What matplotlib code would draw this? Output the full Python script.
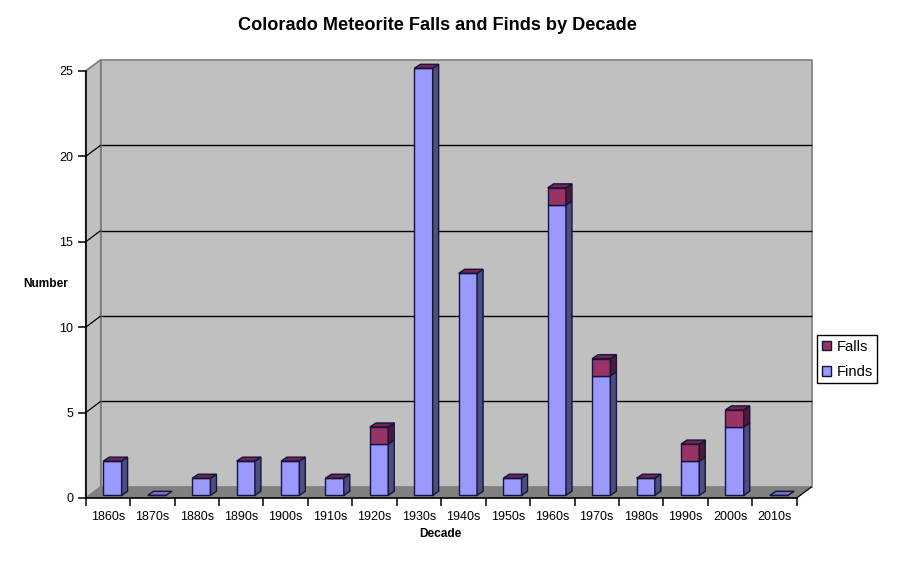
import numpy as np
import matplotlib
matplotlib.use('Agg')
import matplotlib.pyplot as plt
from matplotlib.patches import Polygon, Patch

plt.rcParams['font.family'] = ['Liberation Sans', 'DejaVu Sans']

decades = ['1860s', '1870s', '1880s', '1890s', '1900s', '1910s', '1920s', '1930s',
           '1940s', '1950s', '1960s', '1970s', '1980s', '1990s', '2000s', '2010s']
finds = [2, 0, 1, 2, 2, 1, 3, 25, 13, 1, 17, 7, 1, 2, 4, 0]
falls = [0, 0, 0, 0, 0, 0, 1, 0, 0, 0, 1, 1, 0, 1, 1, 0]

W, H = 899, 561
fig = plt.figure(figsize=(W / 100, H / 100), dpi=100)

# front plane of the fake 3d box, in pixels
left, right, top, bottom = 85.7, 796.7, 71.0, 498.0
ax = fig.add_axes([left / W, 1 - bottom / H, (right - left) / W, (bottom - top) / H])
ax.set_xlim(0, len(decades))
ax.set_ylim(0, 25)
ax.patch.set_visible(False)

# pixels to data units
ux = (right - left) / len(decades)
uy = (bottom - top) / 25
wall_dx, wall_dy = 15 / ux, 11.2 / uy
bar_dx, bar_dy = 6 / ux, 4 / uy
base_off = 2.7 / uy
bar_l, bar_w = 17.6 / ux, 18.3 / ux


def poly(xs, ys, fc, ec='none', lw=0.0, z=1):
    ax.add_patch(Polygon(np.column_stack([xs, ys]), closed=True, facecolor=fc,
                         edgecolor=ec, linewidth=lw, zorder=z, clip_on=False))


n = len(decades)
# back wall, side wall, floor
poly([wall_dx, n + wall_dx, n + wall_dx, wall_dx], [wall_dy, wall_dy, 25 + wall_dy, 25 + wall_dy], '#C0C0C0', '#808080', 1.2)
poly([0, wall_dx, wall_dx, 0], [0, wall_dy, 25 + wall_dy, 25], '#C0C0C0', '#808080', 1.2)
poly([0, n, n + wall_dx, wall_dx], [0, 0, wall_dy, wall_dy], '#808080')

# gridlines
for v in range(5, 26, 5):
    if v < 25:
        ax.plot([wall_dx, n + wall_dx], [v + wall_dy, v + wall_dy], color='black', lw=1.0, zorder=2,
                clip_on=False, solid_capstyle='butt')
    ax.plot([0, wall_dx], [v, v + wall_dy], color='black' if v < 25 else '#808080', lw=0.9, zorder=2,
            clip_on=False, solid_capstyle='butt')
ax.plot([n, n + wall_dx], [0, wall_dy], color='black', lw=0.9, zorder=2, clip_on=False, solid_capstyle='butt')

# bars sit a little behind the front plane
edge = '#14143C'
x = np.arange(n) + bar_l
finds = np.array(finds)
falls = np.array(falls)
ax.bar(x, finds, bar_w, bottom=base_off, align='edge', color='#9999FF',
       edgecolor=edge, linewidth=1.0, zorder=3, clip_on=False)
ax.bar(x, falls, bar_w, bottom=finds + base_off, align='edge', color='#993366',
       edgecolor=edge, linewidth=1.0, zorder=3, clip_on=False)

for xi, a, b in zip(x, finds, falls):
    t = a + b + base_off
    m = a + base_off
    xr = xi + bar_w
    if a > 0:
        poly([xr, xr + bar_dx, xr + bar_dx, xr], [base_off, base_off + bar_dy, m + bar_dy, m], '#4D4D80', edge, 1.0, 4)
    if b > 0:
        poly([xr, xr + bar_dx, xr + bar_dx, xr], [m, m + bar_dy, t + bar_dy, t], '#4D1A33', edge, 1.0, 4)
    top_c = '#73264D' if a + b > 0 else '#7373BF'
    poly([xi, xr, xr + bar_dx, xi + bar_dx], [t, t, t + bar_dy, t + bar_dy], top_c, edge, 1.0, 4)

# axes
for s in ['top', 'right']:
    ax.spines[s].set_visible(False)
for s in ['left', 'bottom']:
    ax.spines[s].set_linewidth(1.2)
    ax.spines[s].set_zorder(5)
ax.set_yticks(range(0, 26, 5))
ax.set_xticks(range(n + 1))
ax.set_xticklabels([])
ax.set_xticks(np.arange(n) + 0.5, decades, minor=True)
ax.tick_params(axis='both', which='major', length=6, width=1.1, labelsize=9, pad=3)
ax.tick_params(axis='x', which='minor', length=0, labelsize=9, pad=9)

fig.text(437.5 / W, 1 - 25 / H, 'Colorado Meteorite Falls and Finds by Decade', ha='center', va='center',
         fontsize=13.05, fontweight='bold')
fig.text(45.5 / W, 1 - 284 / H, 'Number', ha='center', va='center', fontsize=8.6, fontweight='bold')
fig.text(440 / W, 1 - 534 / H, 'Decade', ha='center', va='center', fontsize=8.6, fontweight='bold')

handles = [Patch(facecolor='#993366', edgecolor=edge, label='Falls'),
           Patch(facecolor='#9999FF', edgecolor=edge, label='Finds')]
fig.legend(handles=handles, loc='upper left', bbox_to_anchor=(817.3 / W, 1 - 335.3 / H), fontsize=10.6,
           fancybox=False, framealpha=1, edgecolor='black', borderaxespad=0, borderpad=0.3,
           handlelength=0.65, handleheight=0.65, handletextpad=0.35, labelspacing=0.75)

fig.savefig('out.png', dpi=100, facecolor='white')
